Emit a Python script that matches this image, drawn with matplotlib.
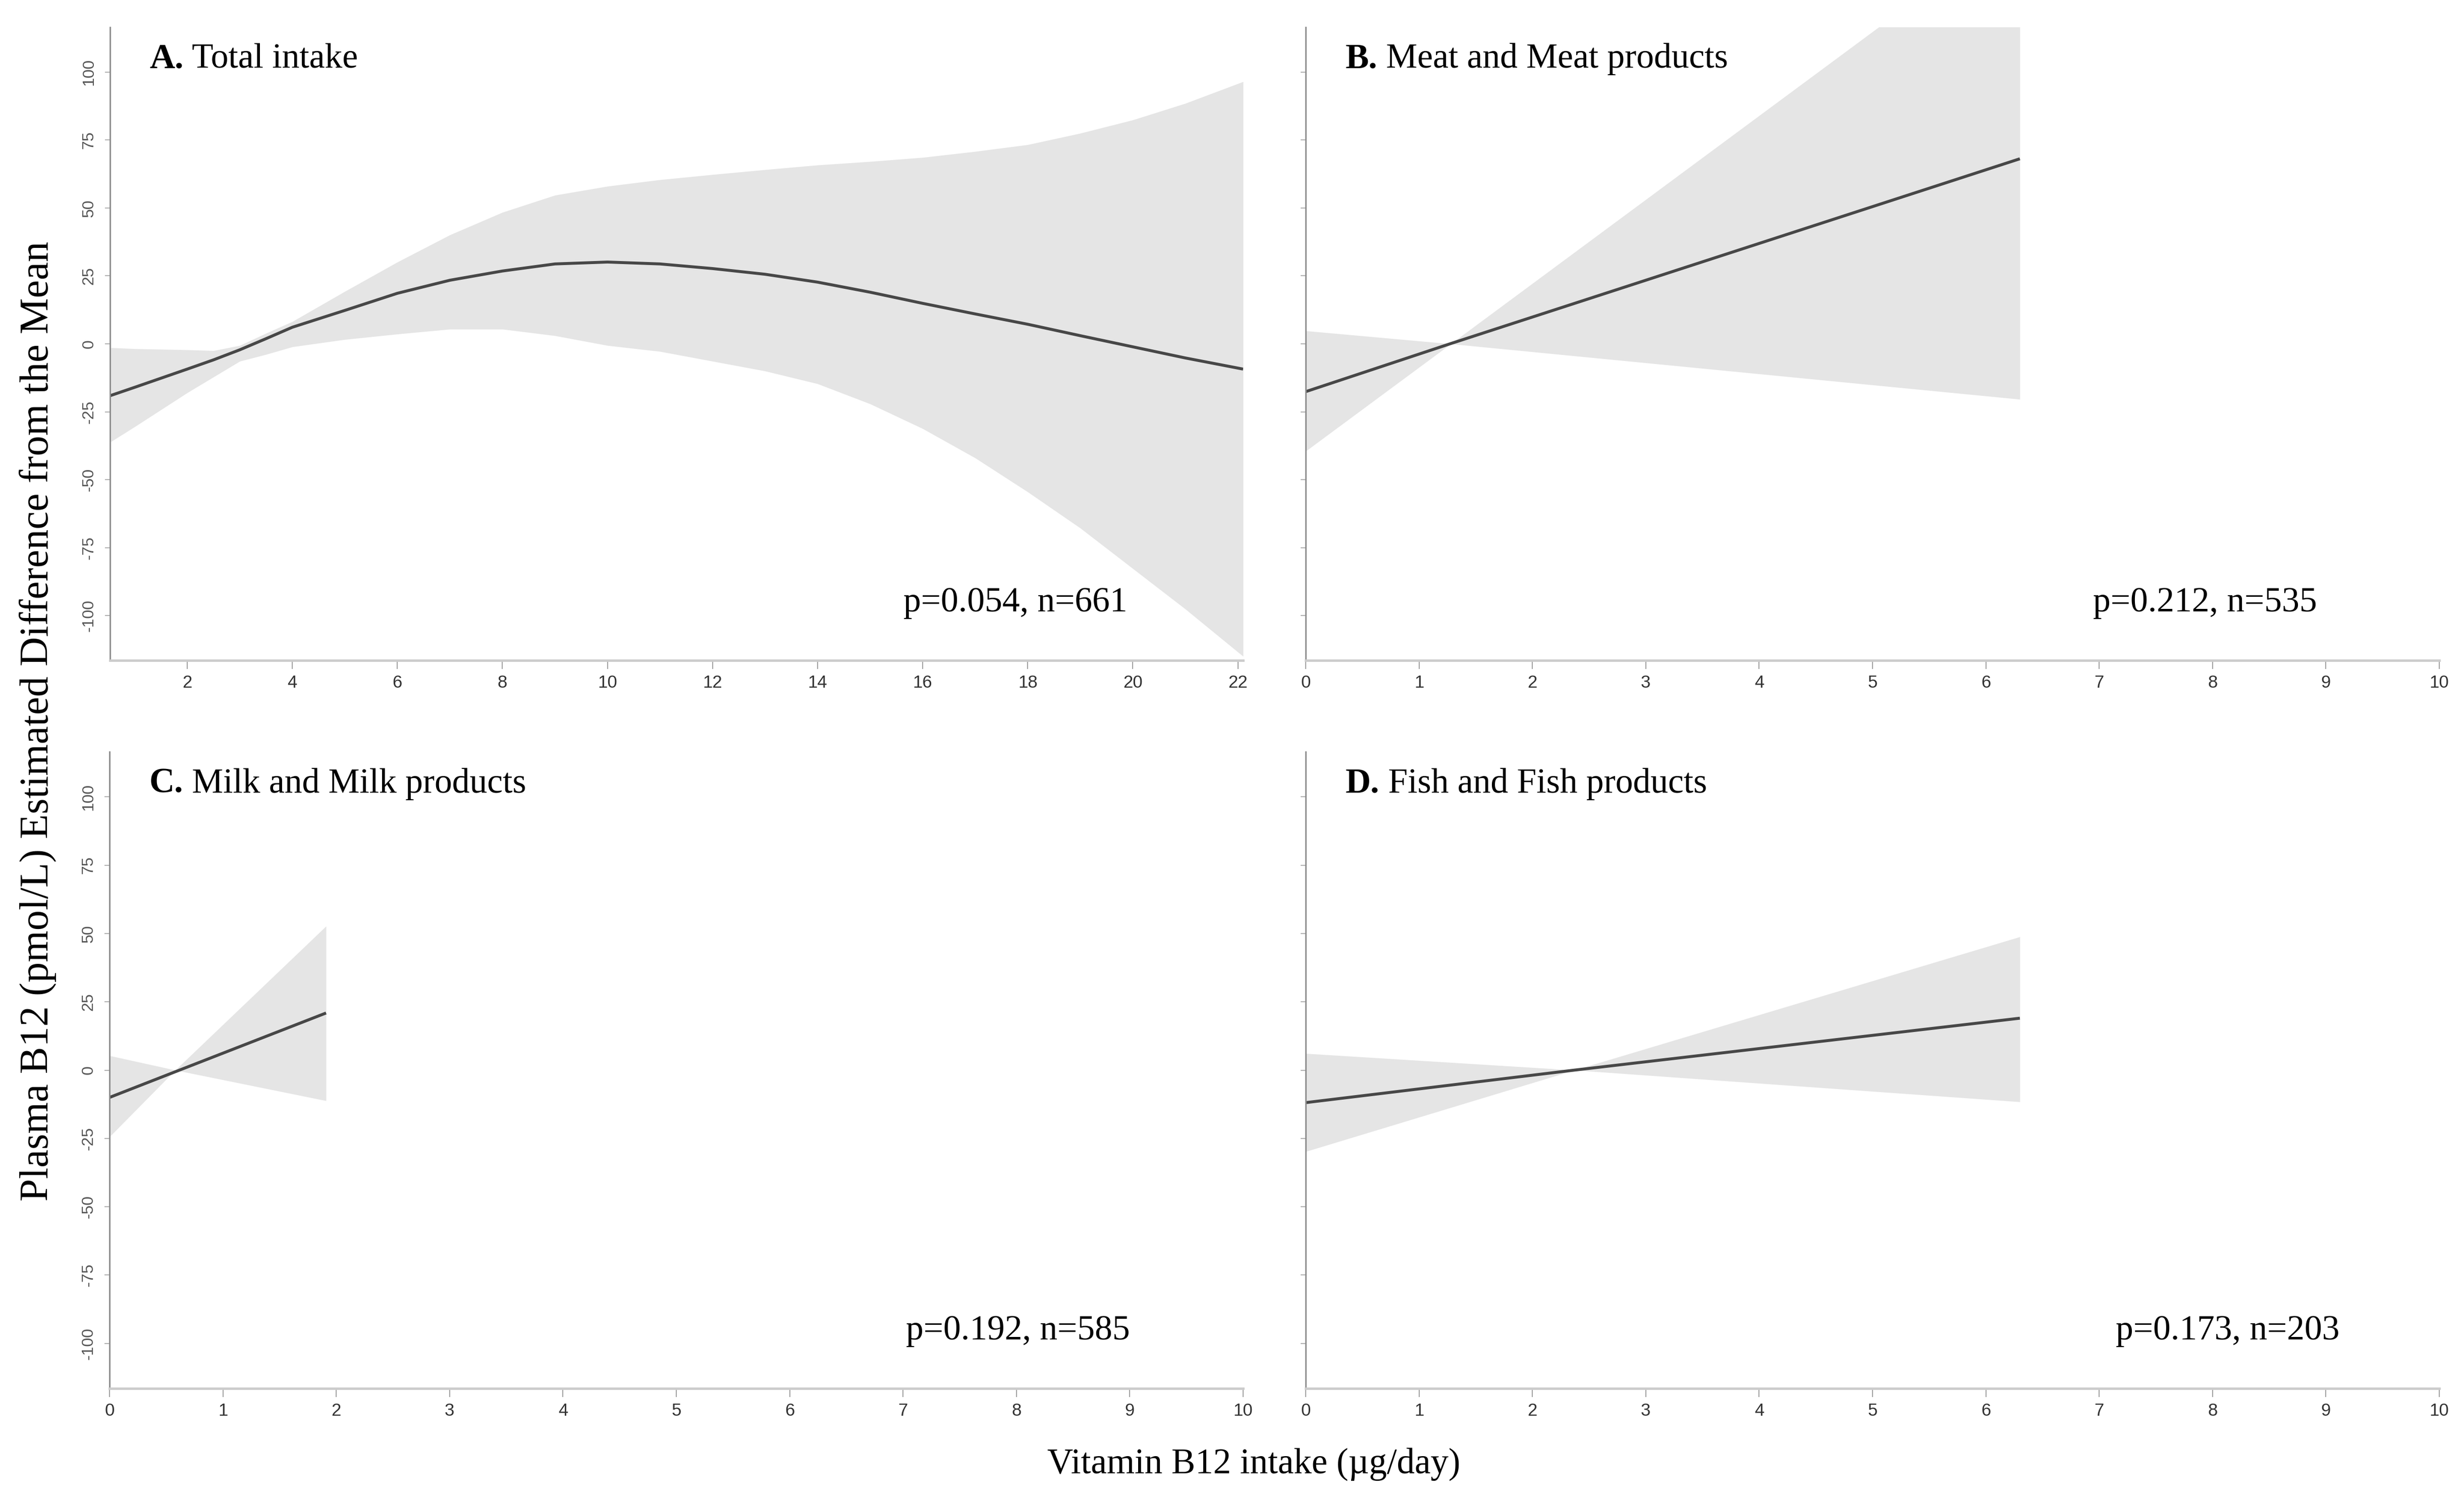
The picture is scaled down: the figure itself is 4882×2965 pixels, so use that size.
import matplotlib
matplotlib.use('Agg')
import matplotlib.pyplot as plt

# Panel A - total intake (spline fit with 95% band)
a_x = [0.53, 1, 2, 2.5, 3, 3.5, 4, 5, 6, 7, 8, 9, 10, 11, 12, 13, 14, 15, 16, 17, 18, 19, 20, 21, 22.1]
a_fit = [-19.1, -16.0, -9.3, -5.9, -2.2, 1.9, 6.1, 12.3, 18.6, 23.4, 26.8, 29.4, 30.1, 29.4, 27.7,
         25.6, 22.7, 19.0, 14.9, 11.0, 7.2, 3.0, -1.1, -5.2, -9.3]
a_hi = [-1.4, -1.8, -2.2, -2.5, -0.6, 3.9, 8.2, 19.3, 30.1, 40.1, 48.4, 54.7, 58.0, 60.4, 62.3,
        64.1, 65.8, 67.1, 68.6, 70.8, 73.3, 77.5, 82.4, 88.5, 96.5]
a_lo = [-36.2, -30.5, -18.0, -12.2, -6.4, -3.9, -1.1, 1.6, 3.6, 5.4, 5.4, 3.0, -0.6, -2.8, -6.4,
        -10.0, -14.7, -22.1, -31.2, -42.0, -54.5, -67.8, -82.7, -97.6, -115.0]

# Panel B - meat and meat products
b_x = [0, 1.28, 6.3]
b_fit = [-17.6, 0.1, 68.1]
b_hi = [4.8, 0.0, 155.0]
b_lo = [-39.5, 0.0, -20.4]

# Panel C - milk and milk products
c_x = [0, 0.58, 1.91]
c_fit = [-10.0, -0.6, 20.9]
c_hi = [5.3, 0.0, 52.7]
c_lo = [-24.4, 0.0, -11.2]

# Panel D - fish and fish products
d_x = [0, 2.37, 6.3]
d_fit = [-11.9, 0.0, 19.0]
d_hi = [6.1, 0.0, 48.8]
d_lo = [-29.8, 0.0, -11.6]

titles = [('A.', ' Total intake'), ('B.', ' Meat and Meat products'),
          ('C.', ' Milk and Milk products'), ('D.', ' Fish and Fish products')]
stats = ['p=0.054, n=661', 'p=0.212, n=535', 'p=0.192, n=585', 'p=0.173, n=203']
stat_x = [0.898, 0.892, 0.900, 0.912]

y_ticks = [-100, -75, -50, -25, 0, 25, 50, 75, 100]
a_xticks = [2, 4, 6, 8, 10, 12, 14, 16, 18, 20, 22]
other_xticks = [0, 1, 2, 3, 4, 5, 6, 7, 8, 9, 10]

SERIF = 'Liberation Serif'
SANS = 'Liberation Sans'

W, H = 4882, 2965
fig = plt.figure(figsize=(W / 100, H / 100), dpi=100)

def rect(l, t, r, b):
    return [l / W, 1 - b / H, (r - l) / W, (b - t) / H]

axes = [
    fig.add_axes(rect(218, 54, 2463, 1308)),
    fig.add_axes(rect(2587, 54, 4833, 1308)),
    fig.add_axes(rect(217, 1489, 2463, 2750)),
    fig.add_axes(rect(2587, 1489, 4833, 2750)),
]

panels = [
    (a_x, a_fit, a_lo, a_hi, (0.53, 22.1), a_xticks),
    (b_x, b_fit, b_lo, b_hi, (0, 10), other_xticks),
    (c_x, c_fit, c_lo, c_hi, (0, 10), other_xticks),
    (d_x, d_fit, d_lo, d_hi, (0, 10), other_xticks),
]

for i, (ax, (x, fit, lo, hi, xl, xt)) in enumerate(zip(axes, panels)):
    ax.fill_between(x, lo, hi, color='#e5e5e5', linewidth=0, zorder=1)
    ax.plot(x, fit, color='#474747', lw=4.2, zorder=2, solid_capstyle='butt',
            solid_joinstyle='round')
    ax.set_xlim(*xl)
    ax.set_ylim(-116.5, 116.5)
    ax.set_xticks(xt)
    ax.set_yticks(y_ticks)
    for s in ['top', 'right']:
        ax.spines[s].set_visible(False)
    ax.spines['left'].set_color('#8a8a8a')
    ax.spines['left'].set_linewidth(2.0)
    ax.spines['bottom'].set_color('#cccccc')
    ax.spines['bottom'].set_linewidth(3.5)
    ax.tick_params(axis='x', direction='out', length=12, width=1.3, color='#999999',
                   labelsize=25, labelcolor='#333333', pad=8)
    ax.tick_params(axis='y', direction='out', length=7, width=1.3, color='#aaaaaa',
                   labelsize=23, labelcolor='#555555', pad=12)
    for lab in ax.get_xticklabels():
        lab.set_fontfamily(SANS)
    if i in (0, 2):
        ax.set_yticklabels([str(v) for v in y_ticks])
        for lab in ax.get_yticklabels():
            lab.set_rotation(90)
            lab.set_va('center')
            lab.set_fontfamily(SANS)
    else:
        ax.set_yticklabels([])

    bold, rest = titles[i]
    t1 = ax.text(0.035, 0.936, bold, transform=ax.transAxes, fontsize=50,
                 fontweight='bold', family=SERIF, va='baseline', ha='left')
    ax.annotate(rest, xy=(1, 0), xycoords=t1, fontsize=50, family=SERIF,
                va='bottom', ha='left')
    ax.text(stat_x[i], 0.077, stats[i], transform=ax.transAxes, fontsize=50,
            family=SERIF, va='baseline', ha='right')

fig.text(75 / W, 1 - 1428 / H, 'Plasma B12 (pmol/L) Estimated Difference from the Mean',
         rotation=90, va='center', ha='center', fontsize=58, family=SERIF)
fig.text(2484 / W, 1 - 2900 / H, 'Vitamin B12 intake (\u00b5g/day)',
         va='center', ha='center', fontsize=51, family=SERIF)

fig.savefig('out.png', dpi=100, facecolor='white')
